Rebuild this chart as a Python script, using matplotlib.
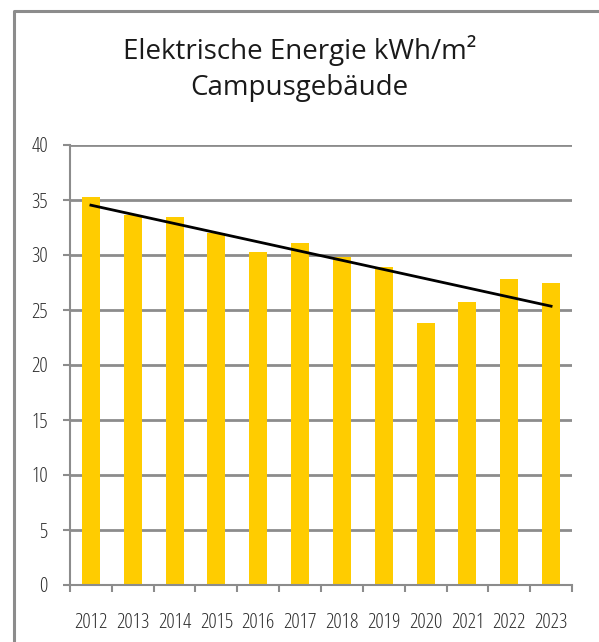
import numpy as np
import matplotlib
matplotlib.use("Agg")
import matplotlib.pyplot as plt
from matplotlib.lines import Line2D
from matplotlib import font_manager

years = ["2012", "2013", "2014", "2015", "2016", "2017", "2018", "2019", "2020", "2021", "2022", "2023"]
values = [35.3, 33.6, 33.45, 32.0, 30.3, 31.1, 29.8, 28.9, 23.8, 25.7, 27.8, 27.5]
title_lines = ["Elektrische Energie kWh/m²", "Campusgebäude"]
y_ticks = [0, 5, 10, 15, 20, 25, 30, 35, 40]

W, H = 599, 642
fig = plt.figure(figsize=(W / 100, H / 100), dpi=100)
fig.patch.set_facecolor("white")

grid_col = "#8c8c8c"
text_col = "#2e2e2e"


def wnum(w):
    if isinstance(w, int):
        return w
    return font_manager.weight_dict.get(str(w), 400)


# look for a regular-weight condensed / narrow face
found = None
prefs = ["Open Sans", "Roboto", "Noto Sans", "Liberation Sans", "DejaVu Sans", "Lato"]
cands = []
for f in font_manager.fontManager.ttflist:
    nm = f.name
    cond = ("Condensed" in nm or "Narrow" in nm or
            str(f.stretch) in ("condensed", "semi-condensed", "extra-condensed") or
            (isinstance(f.stretch, int) and f.stretch < 500))
    if cond and 300 <= wnum(f.weight) <= 400 and f.style == "normal":
        rank = next((i for i, p in enumerate(prefs) if nm.startswith(p)), 99)
        cands.append((rank, -wnum(f.weight), f.fname))
if cands:
    cands.sort()
    found = cands[0][2]

if found:
    tick_fp = font_manager.FontProperties(fname=found, size=15)
else:
    tick_fp = font_manager.FontProperties(family="Open Sans", size=11)

# outer frame (left and top visible)
fig.add_artist(Line2D([14 / W, 14 / W, 1.0], [0.0, 1 - 11 / H, 1 - 11 / H],
                      transform=fig.transFigure, color=grid_col, lw=2.2))

ax = fig.add_axes([70 / W, 1 - 585 / H, (572 - 70) / W, (585 - 145) / H])
x = np.arange(len(years))
ax.bar(x, values, width=0.43, color="#FFCC00", zorder=2)

coef = np.polyfit(x, values, 1)
ax.plot([x[0], x[-1]], np.polyval(coef, [x[0], x[-1]]), color="black", lw=2, zorder=3)

ax.set_xlim(-0.5, len(years) - 0.5)
ax.set_ylim(0, 40)
ax.set_yticks(y_ticks)
ax.set_yticklabels([str(v) for v in y_ticks], fontproperties=tick_fp, color=text_col)
ax.yaxis.grid(True, color=grid_col, lw=2, zorder=0)
ax.set_axisbelow(True)
ax.tick_params(axis="y", direction="out", length=5.0, width=1.5, color=grid_col, pad=11)

ax.set_xticks(x)
ax.set_xticklabels(years, fontproperties=tick_fp, color=text_col)
ax.tick_params(axis="x", which="major", length=0, pad=20)
ax.set_xticks(np.arange(-0.5, len(years)), minor=True)
ax.tick_params(axis="x", which="minor", direction="out", length=5.0, width=1.5, color=grid_col)

for s in ["top", "right"]:
    ax.spines[s].set_visible(False)
for s in ["left", "bottom"]:
    ax.spines[s].set_color(grid_col)
    ax.spines[s].set_linewidth(1.5)

fig.text(0.5, 1 - 59 / H, title_lines[0], ha="center", va="baseline",
         family=["Open Sans", "DejaVu Sans"], fontsize=20, color="#1a1a1a")
fig.text(0.5, 1 - 95 / H, title_lines[1], ha="center", va="baseline",
         family=["Open Sans", "DejaVu Sans"], fontsize=20, color="#1a1a1a")

fig.savefig("out.png", dpi=100, facecolor="white")
